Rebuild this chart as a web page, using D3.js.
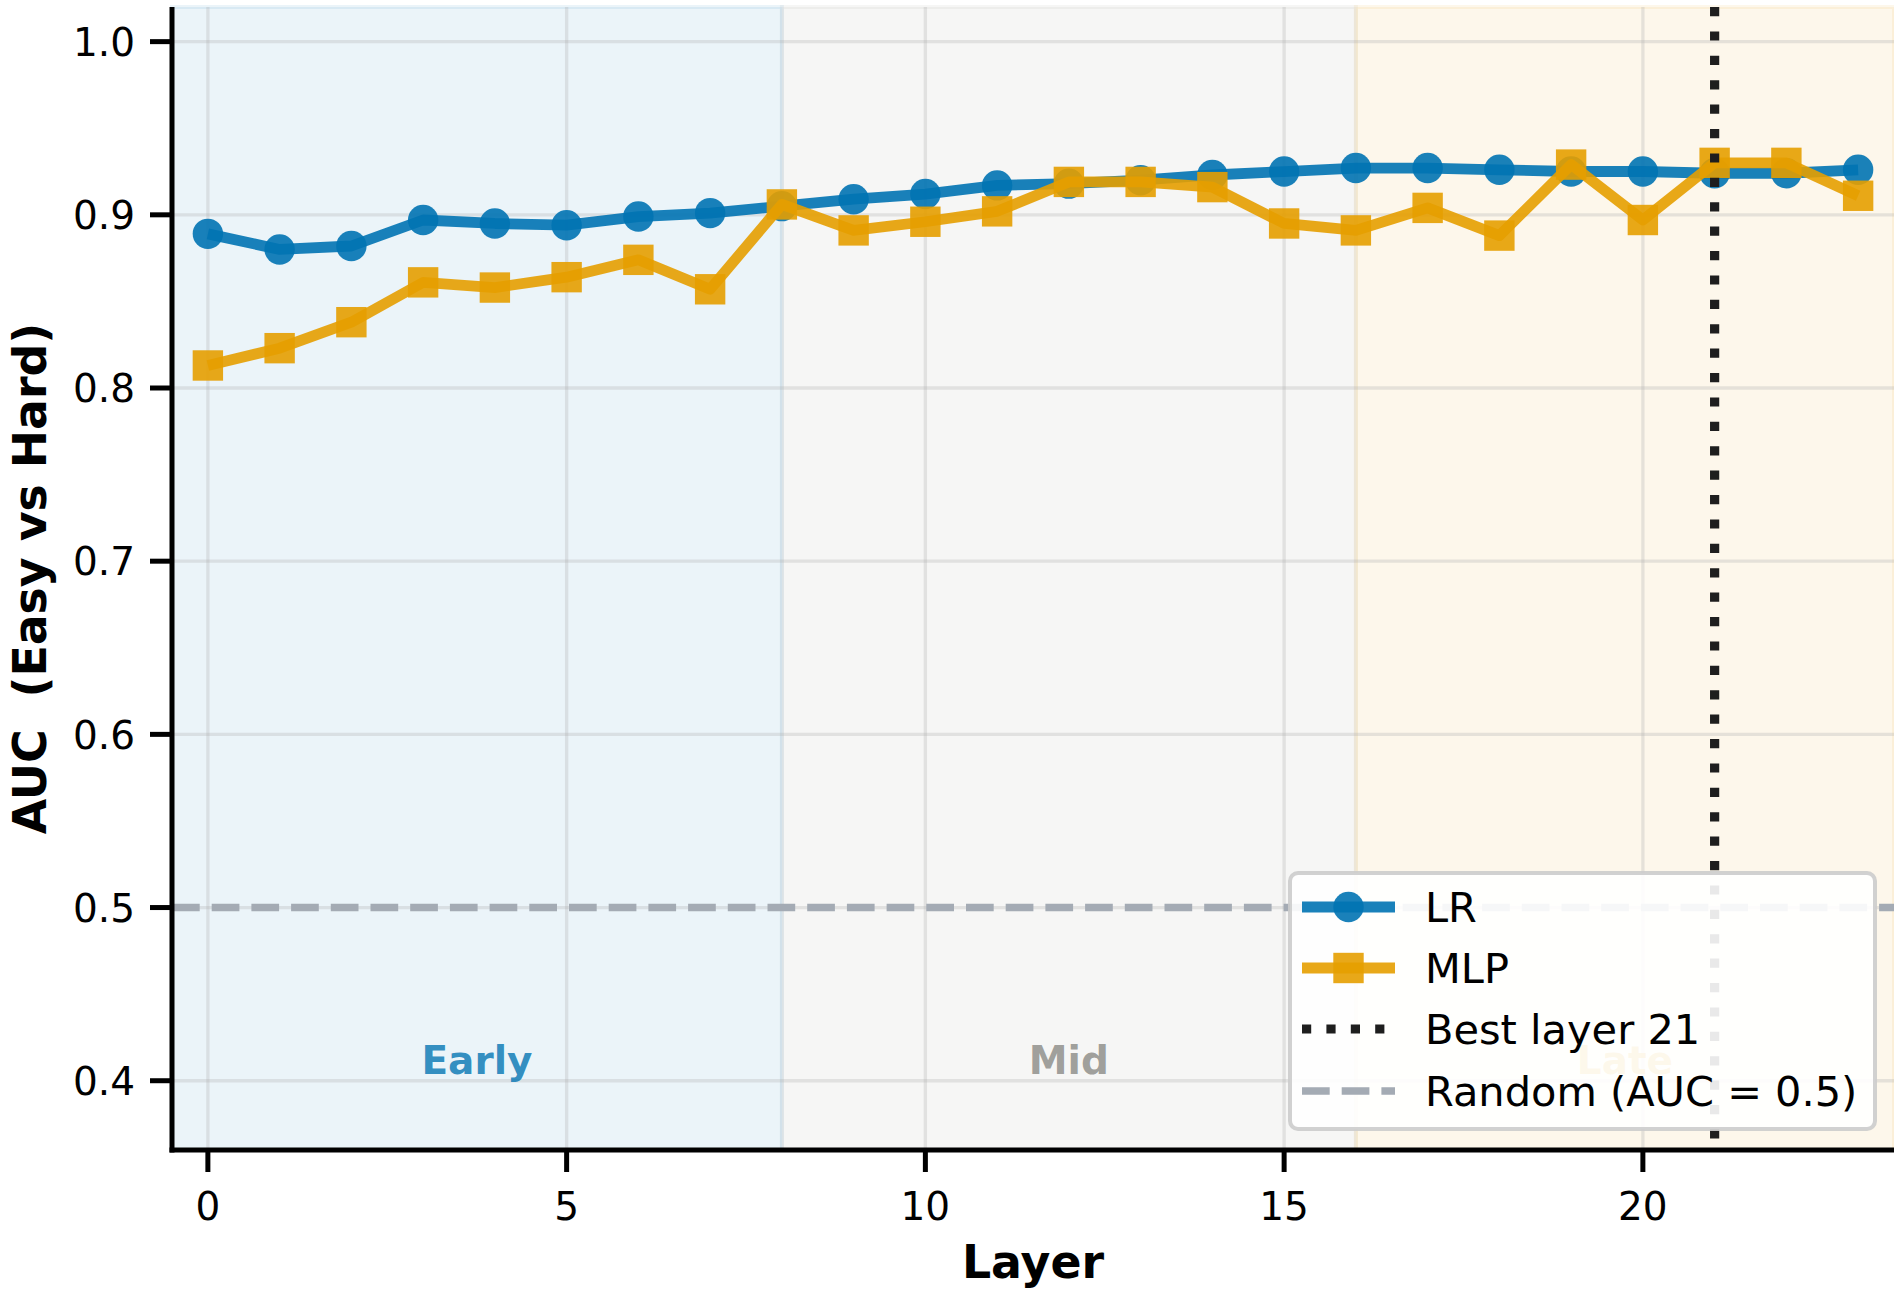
<!DOCTYPE html>
<html>
<head>
<meta charset="utf-8">
<script src="https://cdn.jsdelivr.net/npm/d3@7.9.0/dist/d3.min.js"></script>
<style>
  body { margin: 0; background: #fff; }
  svg { display: block; font-family: "DejaVu Sans", sans-serif; }
</style>
</head>
<body>
<svg id="chart" width="1894" height="1290"></svg>
<script>
// Data
const layers = [0, 1, 2, 3, 4, 5, 6, 7, 8, 9, 10, 11, 12, 13, 14, 15, 16, 17, 18, 19, 20, 21, 22, 23];
const lrAuc = [0.889, 0.880, 0.882, 0.897, 0.895, 0.894, 0.899, 0.901, 0.905, 0.909, 0.912, 0.917,
               0.918, 0.920, 0.923, 0.925, 0.927, 0.927, 0.926, 0.925, 0.925, 0.924, 0.924, 0.926];
const mlpAuc = [0.813, 0.823, 0.838, 0.861, 0.858, 0.864, 0.874, 0.857, 0.906, 0.891, 0.896, 0.902,
                0.919, 0.919, 0.916, 0.895, 0.891, 0.904, 0.888, 0.929, 0.897, 0.930, 0.930, 0.911];
const regionNames = ['Early', 'Mid', 'Late'];
const regionStart = [-0.5, 8, 16];
const regionEnd = [8, 16, 23.5];
const xTicks = [0, 5, 10, 15, 20];
const yTicks = [0.4, 0.5, 0.6, 0.7, 0.8, 0.9, 1.0];
const bestLayer = 21;
const randomAuc = 0.5;
const legendLabels = ['LR', 'MLP', 'Best layer ' + bestLayer, 'Random (AUC = 0.5)'];

// colours
const blue = '#0173B2', orange = '#E69F00';
const regionColors = [blue, '#888884', orange];
const randomColor = '#a4abb4';

const svg = d3.select('#chart');
const m = { left: 172, right: 1894, top: 7, bottom: 1150 };

const x = d3.scaleLinear().domain([-0.5, 23.5]).range([m.left, m.right]);
const y = d3.scaleLinear().domain([0.36, 1.02]).range([m.bottom, m.top]);

const lw = 10.8, mr = 15.2;

// shaded layer regions
const spans = svg.append('g');
regionNames.forEach((name, i) => {
    spans.append('rect')
        .attr('x', x(regionStart[i]))
        .attr('y', m.top)
        .attr('width', x(regionEnd[i]) - x(regionStart[i]))
        .attr('height', m.bottom - m.top)
        .attr('fill', regionColors[i])
        .attr('fill-opacity', 0.08)
        .attr('stroke', regionColors[i])
        .attr('stroke-opacity', 0.08)
        .attr('stroke-width', 4);
});

// grid
const grid = svg.append('g').attr('stroke', '#b0b0b0').attr('stroke-opacity', 0.3).attr('stroke-width', 3.3);
grid.selectAll('.gx').data(xTicks).join('line')
    .attr('x1', d => x(d)).attr('x2', d => x(d))
    .attr('y1', m.top).attr('y2', m.bottom);
grid.selectAll('.gy').data(yTicks).join('line')
    .attr('x1', m.left).attr('x2', m.right)
    .attr('y1', d => y(d)).attr('y2', d => y(d));

// region labels
regionNames.forEach((name, i) => {
    svg.append('text')
        .attr('x', x((regionStart[i] + regionEnd[i]) / 2))
        .attr('y', m.bottom - 76)
        .attr('text-anchor', 'middle')
        .attr('font-weight', 'bold')
        .attr('font-size', 39)
        .attr('fill', regionColors[i])
        .attr('fill-opacity', 0.8)
        .text(name);
});

// random baseline
svg.append('line')
    .attr('x1', m.left).attr('x2', m.right)
    .attr('y1', y(randomAuc)).attr('y2', y(randomAuc))
    .attr('stroke', randomColor)
    .attr('stroke-width', 7.5).attr('stroke-dasharray', '27.7 12');

// series
function drawSeries(values, color, shape) {
    const g = svg.append('g');
    const line = d3.line().x((d, i) => x(layers[i])).y(d => y(d));
    g.append('path')
        .attr('d', line(values))
        .attr('fill', 'none')
        .attr('stroke', color)
        .attr('stroke-opacity', 0.9)
        .attr('stroke-width', lw)
        .attr('stroke-linejoin', 'round');
    if (shape === 'circle') {
        g.selectAll('circle').data(values).join('circle')
            .attr('cx', (d, i) => x(layers[i]))
            .attr('cy', d => y(d))
            .attr('r', mr)
            .attr('fill', color)
            .attr('fill-opacity', 0.9);
    } else {
        g.selectAll('rect').data(values).join('rect')
            .attr('x', (d, i) => x(layers[i]) - mr)
            .attr('y', d => y(d) - mr)
            .attr('width', mr * 2).attr('height', mr * 2)
            .attr('fill', color)
            .attr('fill-opacity', 0.9);
    }
}
drawSeries(lrAuc, blue, 'circle');
drawSeries(mlpAuc, orange, 'square');

// best layer marker
svg.append('line')
    .attr('x1', x(bestLayer)).attr('x2', x(bestLayer))
    .attr('y1', m.top).attr('y2', m.bottom)
    .attr('stroke', '#1e1e1e')
    .attr('stroke-width', 9.2)
    .attr('stroke-dasharray', '9.2 15.2');

// axes
const axes = svg.append('g');
axes.append('line')
    .attr('x1', m.left).attr('x2', m.left)
    .attr('y1', m.top).attr('y2', m.bottom + 2.5)
    .attr('stroke', '#000').attr('stroke-width', 5);
axes.append('line')
    .attr('x1', m.left - 2.5).attr('x2', m.right)
    .attr('y1', m.bottom).attr('y2', m.bottom)
    .attr('stroke', '#000').attr('stroke-width', 5);

axes.selectAll('.yt').data(yTicks).join('line')
    .attr('x1', m.left - 22).attr('x2', m.left)
    .attr('y1', d => y(d)).attr('y2', d => y(d))
    .attr('stroke', '#000').attr('stroke-width', 5);
axes.selectAll('.ytl').data(yTicks).join('text')
    .attr('x', 135)
    .attr('y', d => y(d) + 14.2)
    .attr('text-anchor', 'end')
    .attr('font-size', 39)
    .text(d => d3.format('.1f')(d));

axes.selectAll('.xt').data(xTicks).join('line')
    .attr('x1', d => x(d)).attr('x2', d => x(d))
    .attr('y1', m.bottom).attr('y2', m.bottom + 22)
    .attr('stroke', '#000').attr('stroke-width', 5);
axes.selectAll('.xtl').data(xTicks).join('text')
    .attr('x', d => x(d))
    .attr('y', 1219.5)
    .attr('text-anchor', 'middle')
    .attr('font-size', 39)
    .text(d => d);

svg.append('text')
    .attr('x', (m.left + m.right) / 2)
    .attr('y', 1278)
    .attr('text-anchor', 'middle')
    .attr('font-weight', 'bold')
    .attr('font-size', 45.8)
    .text('Layer');

svg.append('text')
    .attr('transform', `translate(46, ${(m.top + m.bottom) / 2}) rotate(-90)`)
    .attr('text-anchor', 'middle')
    .attr('font-weight', 'bold')
    .attr('font-size', 45.8)
    .attr('xml:space', 'preserve')
    .style('white-space', 'pre')
    .text('AUC  (Easy vs Hard)');

// legend, lower right
const lg = svg.append('g');
lg.append('rect')
    .attr('x', 1290).attr('y', 873)
    .attr('width', 585).attr('height', 256)
    .attr('rx', 8)
    .attr('fill', '#fff').attr('fill-opacity', 0.9)
    .attr('stroke', '#cccccc').attr('stroke-opacity', 0.9).attr('stroke-width', 4);

const rowY = [907, 968, 1029, 1091];
const hx0 = 1302, hx1 = 1395, hxm = (hx0 + hx1) / 2;

lg.append('line').attr('x1', hx0).attr('x2', hx1).attr('y1', rowY[0]).attr('y2', rowY[0])
    .attr('stroke', blue).attr('stroke-opacity', 0.9).attr('stroke-width', lw);
lg.append('circle').attr('cx', hxm).attr('cy', rowY[0]).attr('r', mr)
    .attr('fill', blue).attr('fill-opacity', 0.9);

lg.append('line').attr('x1', hx0).attr('x2', hx1).attr('y1', rowY[1]).attr('y2', rowY[1])
    .attr('stroke', orange).attr('stroke-opacity', 0.9).attr('stroke-width', lw);
lg.append('rect').attr('x', hxm - mr).attr('y', rowY[1] - mr).attr('width', mr * 2).attr('height', mr * 2)
    .attr('fill', orange).attr('fill-opacity', 0.9);

lg.append('line').attr('x1', hx0).attr('x2', hx1).attr('y1', rowY[2]).attr('y2', rowY[2])
    .attr('stroke', '#1e1e1e').attr('stroke-width', 9.2).attr('stroke-dasharray', '9.2 15.2');

lg.append('line').attr('x1', hx0).attr('x2', hx1).attr('y1', rowY[3]).attr('y2', rowY[3])
    .attr('stroke', randomColor)
    .attr('stroke-width', 7.5).attr('stroke-dasharray', '27.7 12');

lg.selectAll('.lt').data(legendLabels).join('text')
    .attr('x', 1425)
    .attr('y', (d, i) => rowY[i] + 15)
    .attr('font-size', 41.5)
    .text(d => d);
</script>
</body>
</html>
